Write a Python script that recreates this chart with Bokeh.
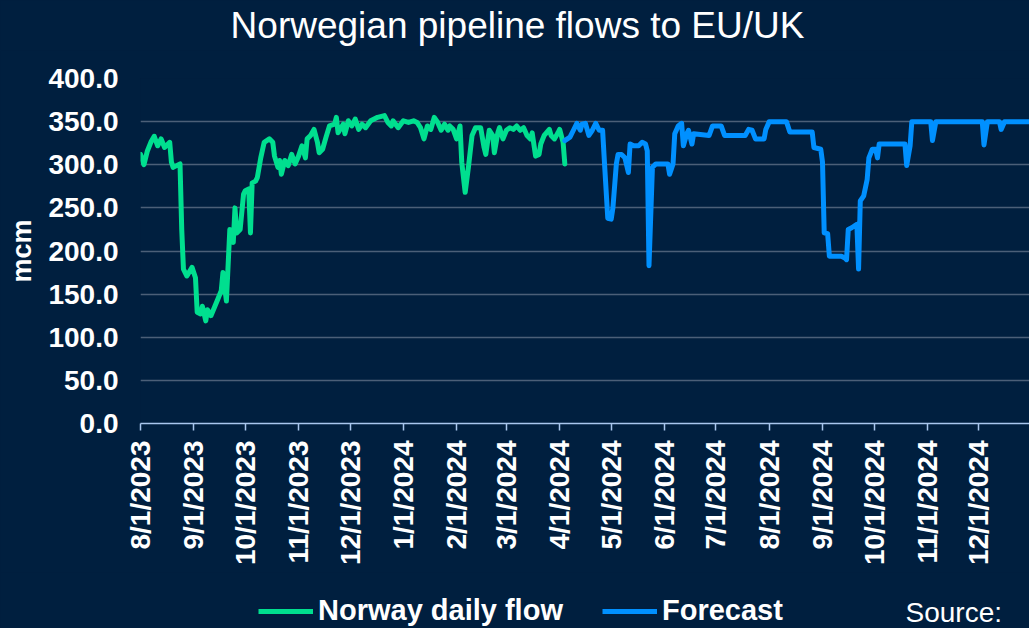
import pandas as pd
from datetime import datetime
from bokeh.plotting import figure
from bokeh.layouts import column
from bokeh.models import (Range1d, FixedTicker, NumeralTickFormatter, Legend,
                          LegendItem, Label)
from bokeh.embed import file_html
from bokeh.resources import INLINE

TITLE = "Norwegian pipeline flows to EU/UK"
Y_LABEL = "mcm"
SOURCE = "Source:"
SERIES_NAMES = ["Norway daily flow", "Forecast"]

flow_dates = [
    "2023-08-01", "2023-08-03", "2023-08-05", "2023-08-07", "2023-08-09", "2023-08-11",
    "2023-08-13", "2023-08-15", "2023-08-17", "2023-08-18", "2023-08-19", "2023-08-20",
    "2023-08-22", "2023-08-24", "2023-08-25", "2023-08-26", "2023-08-28", "2023-08-31",
    "2023-09-02", "2023-09-03", "2023-09-05", "2023-09-06", "2023-09-08", "2023-09-09",
    "2023-09-11", "2023-09-15", "2023-09-17", "2023-09-18", "2023-09-20", "2023-09-22",
    "2023-09-24", "2023-09-25", "2023-09-26", "2023-09-28", "2023-09-30", "2023-10-01",
    "2023-10-03", "2023-10-04", "2023-10-05", "2023-10-07", "2023-10-08", "2023-10-10",
    "2023-10-12", "2023-10-15", "2023-10-17", "2023-10-18", "2023-10-20", "2023-10-21",
    "2023-10-22", "2023-10-24", "2023-10-26", "2023-10-28", "2023-10-30", "2023-11-01",
    "2023-11-03", "2023-11-05", "2023-11-06", "2023-11-08", "2023-11-10", "2023-11-12",
    "2023-11-13", "2023-11-15", "2023-11-17", "2023-11-19", "2023-11-22", "2023-11-23",
    "2023-11-24", "2023-11-27", "2023-11-28", "2023-11-30", "2023-12-02", "2023-12-04",
    "2023-12-06", "2023-12-08", "2023-12-10", "2023-12-13", "2023-12-17", "2023-12-21",
    "2023-12-23", "2023-12-25", "2023-12-26", "2023-12-29", "2024-01-01", "2024-01-04",
    "2024-01-07", "2024-01-09", "2024-01-11", "2024-01-13", "2024-01-15", "2024-01-17",
    "2024-01-19", "2024-01-21", "2024-01-23", "2024-01-25", "2024-01-27", "2024-01-28",
    "2024-01-30", "2024-02-01", "2024-02-03", "2024-02-04", "2024-02-06", "2024-02-08",
    "2024-02-10", "2024-02-12", "2024-02-15", "2024-02-17", "2024-02-18", "2024-02-20",
    "2024-02-22", "2024-02-23", "2024-02-25", "2024-02-26", "2024-02-28", "2024-03-01",
    "2024-03-03", "2024-03-05", "2024-03-07", "2024-03-09", "2024-03-11", "2024-03-13",
    "2024-03-15", "2024-03-16", "2024-03-18", "2024-03-20", "2024-03-21", "2024-03-23",
    "2024-03-26", "2024-03-27", "2024-03-29", "2024-03-31", "2024-04-01", "2024-04-03",
    "2024-04-04",
]
flow_values = [
    312, 300, 316, 326, 333, 322,
    330, 320, 324, 326, 303, 297,
    299, 301, 225, 179, 171, 181,
    169, 129, 127, 136, 119, 132,
    125, 144, 154, 175, 142, 225,
    210, 250, 221, 225, 266, 270,
    272, 221, 279, 281, 285, 308,
    326, 330, 326, 310, 297, 305,
    289, 305, 299, 312, 301, 310,
    322, 308, 330, 334, 341, 326,
    314, 318, 332, 345, 347, 355,
    337, 347, 336, 351, 345, 353,
    341, 347, 343, 351, 355, 357,
    349, 345, 351, 343, 351, 349,
    351, 349, 343, 330, 345, 341,
    355, 349, 340, 347, 340, 345,
    341, 330, 345, 303, 268, 299,
    334, 343, 343, 320, 312, 340,
    334, 314, 337, 343, 330, 340,
    343, 341, 345, 340, 343, 334,
    330, 337, 310, 312, 324, 334,
    341, 334, 330, 337, 341, 326,
    301,
]

forecast_dates = [
    "2024-04-04", "2024-04-07", "2024-04-09", "2024-04-11", "2024-04-13", "2024-04-14",
    "2024-04-16", "2024-04-18", "2024-04-20", "2024-04-22", "2024-04-24", "2024-04-26",
    "2024-04-27", "2024-04-29", "2024-05-01", "2024-05-02", "2024-05-04", "2024-05-05",
    "2024-05-07", "2024-05-09", "2024-05-11", "2024-05-12", "2024-05-14", "2024-05-17",
    "2024-05-19", "2024-05-21", "2024-05-22", "2024-05-23", "2024-05-25", "2024-05-27",
    "2024-06-03", "2024-06-04", "2024-06-06", "2024-06-07", "2024-06-09", "2024-06-11",
    "2024-06-12", "2024-06-14", "2024-06-15", "2024-06-17", "2024-06-18", "2024-06-27",
    "2024-06-29", "2024-07-04", "2024-07-06", "2024-07-18", "2024-07-20", "2024-07-22",
    "2024-07-24", "2024-07-29", "2024-07-30", "2024-08-01", "2024-08-11", "2024-08-13",
    "2024-08-26", "2024-08-27", "2024-08-31", "2024-09-01", "2024-09-02", "2024-09-04",
    "2024-09-05", "2024-09-12", "2024-09-14", "2024-09-15", "2024-09-16", "2024-09-18",
    "2024-09-21", "2024-09-22", "2024-09-23", "2024-09-25", "2024-09-27", "2024-09-28",
    "2024-09-30", "2024-10-02", "2024-10-03", "2024-10-04", "2024-10-19", "2024-10-20",
    "2024-10-22", "2024-10-23", "2024-11-03", "2024-11-04", "2024-11-06", "2024-12-03",
    "2024-12-04", "2024-12-06", "2024-12-13", "2024-12-14", "2024-12-16", "2024-12-31",
]
forecast_values = [
    328, 332, 340, 348, 340, 347,
    348, 334, 340, 348, 340, 340,
    305, 238, 237, 250, 301, 312,
    312, 308, 291, 324, 322, 322,
    326, 324, 316, 183, 297, 301,
    301, 289, 301, 336, 345, 348,
    322, 336, 340, 324, 336, 334,
    345, 345, 334, 334, 341, 340,
    330, 330, 341, 350, 350, 338,
    338, 320, 318, 303, 221, 220,
    194, 194, 192, 190, 225, 227,
    231, 179, 258, 264, 283, 308,
    318, 318, 308, 324, 324, 299,
    322, 350, 350, 328, 350, 350,
    323, 350, 350, 341, 350, 350,
]

TICK_DATES = [
    "2023-08-01", "2023-09-01", "2023-10-01", "2023-11-01", "2023-12-01", "2024-01-01",
    "2024-02-01", "2024-03-01", "2024-04-01", "2024-05-01", "2024-06-01", "2024-07-01",
    "2024-08-01", "2024-09-01", "2024-10-01", "2024-11-01", "2024-12-01",
]
TICK_LABELS = [
    "8/1/2023", "9/1/2023", "10/1/2023", "11/1/2023", "12/1/2023", "1/1/2024",
    "2/1/2024", "3/1/2024", "4/1/2024", "5/1/2024", "6/1/2024", "7/1/2024",
    "8/1/2024", "9/1/2024", "10/1/2024", "11/1/2024", "12/1/2024",
]
Y_TICKS = [0, 50, 100, 150, 200, 250, 300, 350, 400]

BG = "#001F3F"
GREEN = "#00DF8F"
BLUE = "#0090FF"
GRID = "#4B5F78"
AXIS = "#A9C7EE"
FONT = "Liberation Sans"
W = 1029

fd = pd.to_datetime(flow_dates)
cd = pd.to_datetime(forecast_dates)


def strip(height):
    f = figure(width=W, height=height, x_range=Range1d(0, W), y_range=Range1d(0, height),
               min_border=0, x_axis_location=None, y_axis_location=None,
               toolbar_location=None, title=None, output_backend="svg",
               styles={"background-color": BG})
    f.background_fill_color = BG
    f.border_fill_color = BG
    f.outline_line_color = None
    f.grid.visible = False
    f.frame_align = False
    return f


# ---- title strip
T = strip(50)
T.add_layout(Label(x=517, y=25, text=TITLE, text_align="center",
                   text_baseline="alphabetic", text_color="white",
                   text_font=FONT, text_font_size="37px"))

# ---- main chart
M = figure(width=W, height=522, x_axis_type="datetime",
           output_backend="svg", toolbar_location=None, title=None,
           x_range=Range1d(datetime(2023, 8, 1), datetime(2024, 12, 30, 12)),
           y_range=Range1d(0, 400),
           min_border_left=140, min_border_right=0,
           min_border_top=28, min_border_bottom=149,
           styles={"background-color": BG})
M.background_fill_color = BG
M.border_fill_color = BG
M.outline_line_color = None
M.frame_align = False

M.line(fd, flow_values, line_color=GREEN, line_width=5,
       line_join="round", line_cap="round")
M.line(cd, forecast_values, line_color=BLUE, line_width=5,
       line_join="round", line_cap="round")

tick_ms = [int(pd.Timestamp(d).value // 10**6) for d in TICK_DATES]
xa = M.xaxis[0]
xa.ticker = FixedTicker(ticks=tick_ms)
xa.major_label_overrides = {t: l for t, l in zip(tick_ms, TICK_LABELS)}
xa.major_label_orientation = 3.14159265 / 2
xa.major_label_text_font = FONT
xa.major_label_text_font_style = "bold"
xa.major_label_text_font_size = "28px"
xa.major_label_text_color = "white"
xa.major_label_standoff = 10
xa.axis_line_color = AXIS
xa.axis_line_width = 1.5
xa.major_tick_line_color = AXIS
xa.major_tick_line_width = 1.5
xa.major_tick_out = 7
xa.major_tick_in = 0
xa.minor_tick_line_color = None

ya = M.yaxis[0]
ya.ticker = FixedTicker(ticks=Y_TICKS)
ya.formatter = NumeralTickFormatter(format="0.0")
ya.major_label_text_font = FONT
ya.major_label_text_font_style = "bold"
ya.major_label_text_font_size = "28px"
ya.major_label_text_color = "white"
ya.major_label_standoff = 22
ya.axis_line_color = None
ya.major_tick_line_color = None
ya.minor_tick_line_color = None
ya.major_tick_out = 0
ya.major_tick_in = 0
ya.axis_label = Y_LABEL
ya.axis_label_text_font = FONT
ya.axis_label_text_font_style = "bold"
ya.axis_label_text_font_size = "27px"
ya.axis_label_text_color = "white"
ya.axis_label_standoff = 8

M.xgrid.grid_line_color = None
M.ygrid.grid_line_color = GRID
M.ygrid.grid_line_width = 1.5

# ---- legend / source strip (same series, off-view here; only the legend shows)
L = strip(56)
l1 = L.line(fd, flow_values, line_color=GREEN, line_width=5)
l2 = L.line(cd, forecast_values, line_color=BLUE, line_width=5)
legend = Legend(items=[LegendItem(label=SERIES_NAMES[0], renderers=[l1]),
                       LegendItem(label=SERIES_NAMES[1], renderers=[l2])],
                orientation="horizontal", location=(258, 1),
                padding=0, margin=0, spacing=39, label_standoff=5,
                glyph_width=55, glyph_height=20,
                background_fill_alpha=0, border_line_alpha=0,
                label_text_color="white", label_text_font_size="29px",
                label_text_font_style="bold", label_text_font=FONT)
L.add_layout(legend)
L.add_layout(Label(x=905, y=16, text=SOURCE, text_align="left",
                   text_baseline="alphabetic", text_color="white",
                   text_font=FONT, text_font_size="28px"))

layout = column(T, M, L, spacing=0, styles={"background-color": BG})
open("out.html", "w").write(file_html(layout, INLINE))
